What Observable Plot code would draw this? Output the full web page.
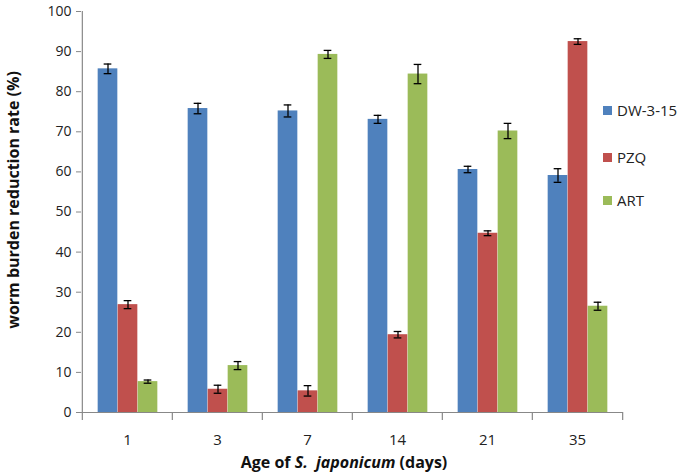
<!DOCTYPE html>
<html>
<head>
<meta charset="utf-8">
<script src="https://cdn.jsdelivr.net/npm/d3@7"></script>
<script src="https://cdn.jsdelivr.net/npm/@observablehq/plot@0.6"></script>
<style>
  html, body { margin: 0; padding: 0; background: #fff; }
  #wrap { position: relative; width: 691px; height: 475px; font-family: "Open Sans", sans-serif; }
  .leg { position: absolute; left: 603px; font-size: 15px; color: #222; display: flex; align-items: center; }
  .leg span.sw { display: inline-block; width: 9px; height: 9px; margin-right: 5px; }
</style>
</head>
<body>
<div id="wrap"></div>
<script>
const days = ["1", "3", "7", "14", "21", "35"];
const seriesNames = ["DW-3-15", "PZQ", "ART"];
const colors = ["#4F81BD", "#C0504D", "#9BBB59"];
const dwValues  = [85.7, 75.8, 75.2, 73.1, 60.6, 59.1];
const dwErr     = [1.2, 1.3, 1.5, 1.0, 0.8, 1.7];
const pzqValues = [26.9, 5.8, 5.4, 19.4, 44.7, 92.5];
const pzqErr    = [1.0, 1.0, 1.3, 0.8, 0.6, 0.7];
const artValues = [7.7, 11.7, 89.3, 84.4, 70.2, 26.5];
const artErr    = [0.4, 1.0, 1.0, 2.4, 1.9, 1.0];
const yTicks = [0, 10, 20, 30, 40, 50, 60, 70, 80, 90, 100];

const valueSets = [dwValues, pzqValues, artValues];
const errSets = [dwErr, pzqErr, artErr];
const rows = [];
seriesNames.forEach((s, k) => days.forEach((d, i) => rows.push({
  series: s, k, day: d, value: valueSets[k][i], lo: valueSets[k][i] - errSets[k][i], hi: valueSets[k][i] + errSets[k][i]
})));

const W = 691, H = 475, ML = 81, MR = 68, MT = 11, MB = 63;
const band = (W - ML - MR) / days.length;
const barW = 20;
const offsets = [-19.5, 0.5, 20.5];

const marks = [];
seriesNames.forEach((s, k) => {
  const sub = rows.filter(r => r.series === s);
  marks.push(Plot.barY(sub, {x: "day", y: "value", fill: colors[k], dx: offsets[k],
    insetLeft: (band - barW) / 2, insetRight: (band - barW) / 2}));
});
seriesNames.forEach((s, k) => {
  const sub = rows.filter(r => r.series === s);
  marks.push(Plot.ruleX(sub, {x: "day", y1: "lo", y2: "hi", dx: offsets[k], stroke: "#000", strokeWidth: 1.3}));
  marks.push(Plot.tickY(sub, {x: "day", y: "lo", dx: offsets[k], stroke: "#000", strokeWidth: 1.3,
    insetLeft: (band - 8) / 2, insetRight: (band - 8) / 2}));
  marks.push(Plot.tickY(sub, {x: "day", y: "hi", dx: offsets[k], stroke: "#000", strokeWidth: 1.3,
    insetLeft: (band - 8) / 2, insetRight: (band - 8) / 2}));
});
// axes lines
marks.push(Plot.ruleY([0], {stroke: "#888", strokeWidth: 1.2}));
marks.push(Plot.ruleX([days[0]], {dx: -band / 2, y1: 0, y2: 100, stroke: "#888", strokeWidth: 1.2}));
// category boundary ticks
marks.push(Plot.ruleX(days, {x: d => d, dx: -band / 2, y1: 0, y2: -2, stroke: "#888", strokeWidth: 1.2}));
marks.push(Plot.ruleX([days[days.length - 1]], {dx: band / 2, y1: 0, y2: -2, stroke: "#888", strokeWidth: 1.2}));
marks.push(Plot.axisY({ticks: yTicks, tickSize: 5, tickPadding: 5, stroke: "#888", fontSize: 14, label: null, color: "#222"}));
marks.push(Plot.axisX({tickSize: 0, tickPadding: 22, fontSize: 15, label: null, color: "#222"}));

const chart = Plot.plot({
  width: W, height: H,
  marginLeft: ML, marginRight: MR, marginTop: MT, marginBottom: MB,
  style: {fontFamily: "Open Sans, sans-serif", background: "#fff", color: "#222"},
  x: {type: "band", domain: days, padding: 0},
  y: {domain: [0, 100]},
  marks
});

const svg = d3.select(chart);
// y-axis title
svg.append("text")
  .attr("transform", "translate(19,200) rotate(-90)")
  .attr("text-anchor", "middle")
  .attr("font-family", "Open Sans, sans-serif")
  .attr("font-size", 16).attr("font-weight", "bold").attr("fill", "#111")
  .text("worm burden reduction rate (%)");
// x-axis title
const xt = svg.append("text")
  .attr("x", 344).attr("y", 468)
  .attr("text-anchor", "middle")
  .attr("font-family", "Open Sans, sans-serif")
  .attr("font-size", 16).attr("font-weight", "bold").attr("fill", "#111");
xt.append("tspan").text("Age of ");
xt.append("tspan").attr("font-style", "italic").text("S.\u00a0 japonicum");
xt.append("tspan").text(" (days)");

const wrap = document.getElementById("wrap");
wrap.appendChild(chart);

// legend
const legY = [110, 157, 200];
seriesNames.forEach((s, k) => {
  const el = document.createElement("div");
  el.className = "leg";
  el.style.top = (legY[k] - 10) + "px";
  el.style.height = "20px";
  el.innerHTML = `<span class="sw" style="background:${colors[k]}"></span><span>${s}</span>`;
  wrap.appendChild(el);
});
</script>
</body>
</html>
